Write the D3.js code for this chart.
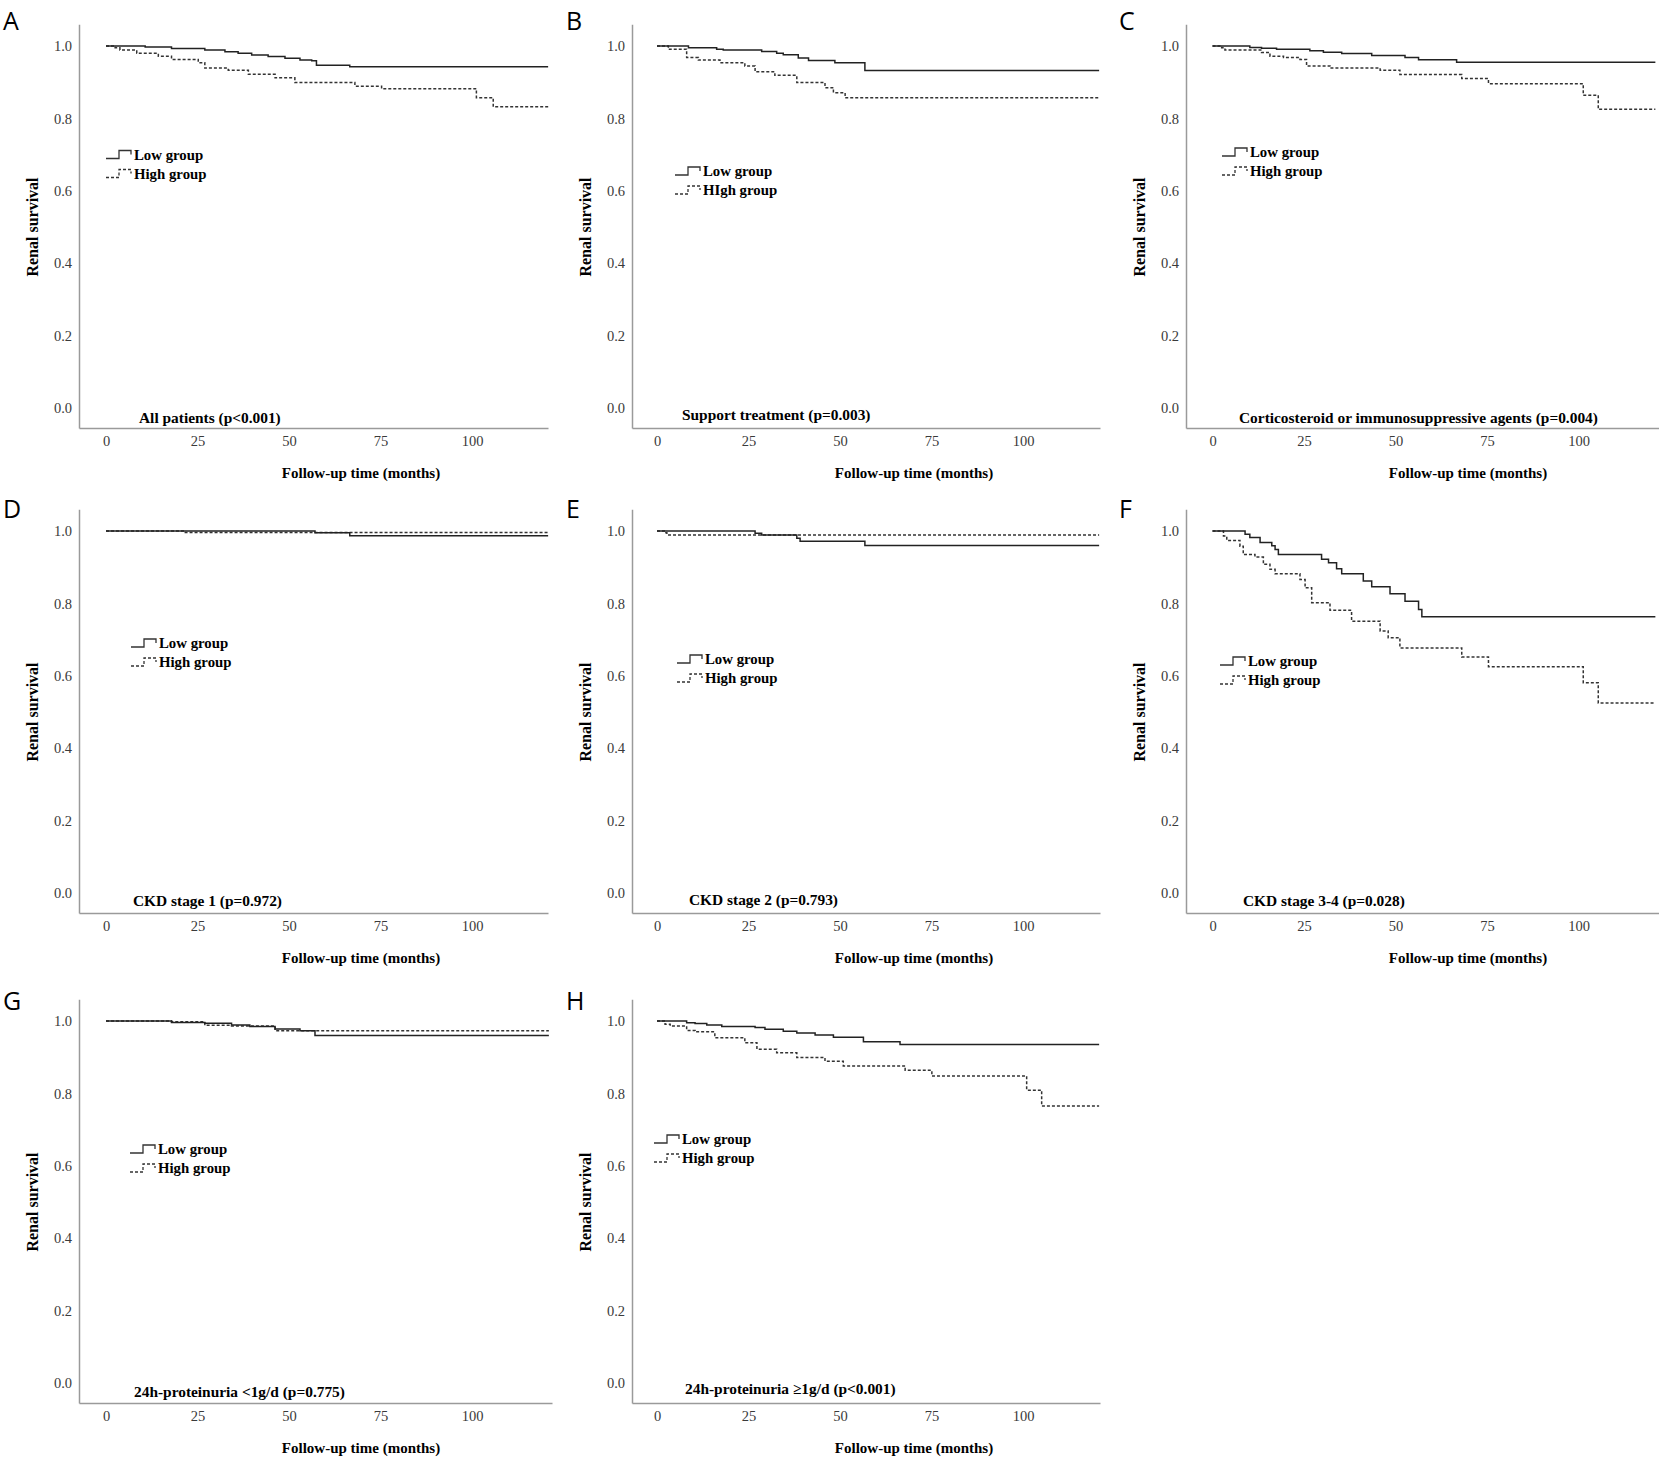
<!DOCTYPE html>
<html>
<head>
<meta charset="utf-8">
<script src="https://cdn.jsdelivr.net/npm/d3@7"></script>
<style>
  body { margin: 0; background: #fff; }
  svg { display: block; }
</style>
</head>
<body>
<div id="chart"></div>
<script>
// Kaplan-Meier curves: [time (months), survival after the step]
const lowA  = [[0,1],[10.7,0.997],[17.9,0.993],[27,0.989],[32.5,0.984],[36.1,0.980],[39.8,0.975],[44.3,0.971],[48.9,0.966],[53,0.961],[56.2,0.959],[57.5,0.947],[66.6,0.943],[120.8,0.943]];
const highA = [[0,1],[2.5,0.995],[3.8,0.989],[8.4,0.980],[14.3,0.972],[17.9,0.963],[25.2,0.954],[27,0.939],[33.4,0.933],[38.9,0.922],[46.2,0.912],[51.6,0.899],[68,0.889],[75.3,0.882],[101.2,0.857],[105.8,0.832],[121,0.832]];
const lowB  = [[0,1],[8.6,0.995],[16.3,0.991],[18.1,0.989],[28.6,0.985],[32.7,0.980],[34.5,0.976],[38.6,0.967],[41.4,0.960],[48.6,0.954],[56.8,0.932],[120.8,0.932]];
const highB = [[0,1],[3.1,0.991],[8.1,0.968],[11.3,0.961],[17.2,0.954],[24,0.945],[26.8,0.929],[32.2,0.919],[38.2,0.899],[45.9,0.885],[48.2,0.871],[51.4,0.857],[120.8,0.857]];
const lowC  = [[0,1],[10.2,0.996],[13.4,0.994],[17.5,0.991],[26.6,0.987],[30.3,0.983],[35.3,0.979],[43.5,0.974],[52.6,0.968],[56.3,0.962],[66.7,0.955],[121,0.955]];
const highC = [[0,1],[2.5,0.995],[3.4,0.989],[13.4,0.982],[15.7,0.972],[19.4,0.968],[23.9,0.963],[25.7,0.945],[32.1,0.939],[45.8,0.933],[51.2,0.921],[68.1,0.910],[75.4,0.896],[101.3,0.864],[105.4,0.825],[121,0.825]];
const lowD  = [[0,1],[57.1,0.995],[66.6,0.987],[120.8,0.987]];
const highD = [[0,1],[21.1,0.996],[120.8,0.996]];
const lowE  = [[0,1],[26.8,0.994],[28.6,0.989],[38.2,0.980],[39.1,0.972],[56.8,0.960],[120.8,0.960]];
const highE = [[0,1],[2.2,0.995],[2.7,0.989],[120.8,0.989]];
const lowF  = [[0,1],[8.9,0.991],[10.2,0.982],[13,0.968],[16.2,0.959],[17.1,0.949],[18,0.935],[29.8,0.922],[31.7,0.912],[33.9,0.896],[35.3,0.882],[41.2,0.862],[43.5,0.846],[48.5,0.827],[52.6,0.806],[56.3,0.783],[57.2,0.763],[121,0.763]];
const highF = [[0,1],[3,0.986],[3.9,0.974],[7.5,0.958],[8.4,0.935],[11.6,0.928],[13.9,0.908],[15.7,0.894],[17.1,0.882],[23.9,0.866],[25.3,0.843],[27.1,0.802],[32.1,0.781],[38,0.751],[45.8,0.724],[48,0.705],[51.2,0.677],[68.1,0.652],[75.4,0.625],[101.3,0.581],[105.4,0.525],[121,0.525]];
const lowG  = [[0,1],[17.9,0.996],[27,0.994],[34.3,0.989],[39.3,0.985],[46.2,0.978],[53,0.973],[57.1,0.960],[121,0.960]];
const highG = [[0,1],[17.9,0.998],[27,0.988],[34.3,0.986],[46.2,0.973],[121,0.973]];
const lowH  = [[0,1],[8.1,0.995],[10.4,0.993],[13.6,0.989],[17.7,0.985],[26.8,0.982],[29.5,0.977],[34.5,0.972],[38.2,0.967],[43.2,0.961],[48.2,0.955],[56.4,0.943],[66.4,0.935],[120.8,0.935]];
const highH = [[0,1],[2.2,0.991],[3.6,0.986],[8.1,0.974],[10.4,0.970],[15.8,0.954],[24,0.940],[27.3,0.922],[32.7,0.912],[38.2,0.899],[45.9,0.889],[50.9,0.876],[67.8,0.864],[75.1,0.848],[101,0.809],[105.1,0.765],[120.8,0.765]];

const panelLetters = ['A', 'B', 'C', 'D', 'E', 'F', 'G', 'H'];
const panelNotes = [
    'All patients (p<0.001)',
    'Support treatment (p=0.003)',
    'Corticosteroid or immunosuppressive agents (p=0.004)',
    'CKD stage 1 (p=0.972)',
    'CKD stage 2 (p=0.793)',
    'CKD stage 3-4 (p=0.028)',
    '24h-proteinuria <1g/d (p=0.775)',
    '24h-proteinuria \u22651g/d (p<0.001)'
];
const lowLabels = ['Low group', 'Low group', 'Low group', 'Low group', 'Low group', 'Low group', 'Low group', 'Low group'];
const highLabels = ['High group', 'HIgh group', 'High group', 'High group', 'High group', 'High group', 'High group', 'High group'];
const lowCurves = [lowA, lowB, lowC, lowD, lowE, lowF, lowG, lowH];
const highCurves = [highA, highB, highC, highD, highE, highF, highG, highH];
const xTicks = [0, 25, 50, 75, 100];
const yTicks = [0, 0.2, 0.4, 0.6, 0.8, 1.0];
const xTitle = 'Follow-up time (months)';
const yTitle = 'Renal survival';

// layout (pixels)
const W = 1659, H = 1457;
const colAxisX = [79, 632, 1186];
const colZero = [106, 657, 1212.5];
const colHundred = [472, 1023, 1578.5];
const colEnd = [548, 1100, 1659];
const rowOne = [46, 531, 1021];
const rowZero = [408, 893, 1383];
// legend and note offsets from (axis x, y of 1.0)
const legendOff = [[27,108.5],[43,125],[36,106],[52,112],[45,128],[34,130],[51,128],[22,118]];
const noteOff = [[60,372],[50,369],[53,372],[54,370],[57,369],[57,370],[55,371],[53,368]];

const serif = '"Liberation Serif", "Times New Roman", serif';
const axisGray = '#9a9a9a';

const svg = d3.select('#chart').append('svg')
    .attr('width', W)
    .attr('height', H);

const stepLine = (x, y) => d3.line()
    .x(d => x(d[0]))
    .y(d => y(d[1]))
    .curve(d3.curveStepAfter);

panelLetters.forEach((letter, i) => {
    const col = i % 3, row = Math.floor(i / 3);
    const ax = colAxisX[col];
    const endX = (i === 6) ? 552 : colEnd[col];

    const x0 = d3.scaleLinear().domain([0, 100]).range([colZero[col], colHundred[col]]);
    const x = d3.scaleLinear().domain([x0.invert(ax), x0.invert(endX)]).range([ax, endX]);
    const y0 = d3.scaleLinear().domain([0, 1]).range([rowZero[row], rowOne[row]]);
    const y = d3.scaleLinear().domain([-0.055, 1.06]).range([y0(-0.055), y0(1.06)]);

    const g = svg.append('g');

    // axes
    const xAxis = g.append('g')
        .attr('transform', `translate(0,${y(-0.055)})`)
        .call(d3.axisBottom(x).tickValues(xTicks).tickSize(0).tickPadding(8));
    const yAxis = g.append('g')
        .attr('transform', `translate(${ax},0)`)
        .call(d3.axisLeft(y).tickValues(yTicks).tickFormat(d3.format('.1f')).tickSize(0).tickPadding(7));
    [xAxis, yAxis].forEach(a => {
        a.select('.domain').attr('stroke', axisGray).attr('stroke-width', 1.5);
        a.selectAll('text')
            .style('font-family', serif)
            .style('font-size', '14.5px')
            .attr('fill', '#3a3a3a');
    });

    // titles
    g.append('text')
        .attr('x', ax + 282)
        .attr('y', y(-0.055) + 44.5)
        .attr('dy', '0.35em')
        .attr('text-anchor', 'middle')
        .style('font-family', serif)
        .style('font-size', '15px')
        .style('font-weight', 'bold')
        .text(xTitle);

    g.append('text')
        .attr('transform', `translate(${ax - 47},${y(0.5)}) rotate(-90)`)
        .attr('dy', '0.35em')
        .attr('text-anchor', 'middle')
        .style('font-family', serif)
        .style('font-size', '16px')
        .style('font-weight', 'bold')
        .text(yTitle);

    // curves
    const line = stepLine(x, y);
    g.append('path')
        .datum(highCurves[i])
        .attr('d', line)
        .attr('fill', 'none')
        .attr('stroke', '#333')
        .attr('stroke-width', 1.5)
        .attr('stroke-dasharray', '3,2');
    g.append('path')
        .datum(lowCurves[i])
        .attr('d', line)
        .attr('fill', 'none')
        .attr('stroke', '#222')
        .attr('stroke-width', 1.5);

    // legend
    const lx = ax + legendOff[i][0];
    const ly = rowOne[row] + legendOff[i][1];
    [[lowLabels[i], null], [highLabels[i], '3,2']].forEach(([label, dash], k) => {
        const yc = ly + k * 19;
        g.append('path')
            .attr('d', `M${lx},${yc + 4}H${lx + 13}V${yc - 4}H${lx + 25}V${yc}`)
            .attr('fill', 'none')
            .attr('stroke', '#333')
            .attr('stroke-width', 1.3)
            .attr('stroke-dasharray', dash);
        g.append('text')
            .attr('x', lx + 28)
            .attr('y', yc)
            .attr('dy', '0.35em')
            .style('font-family', serif)
            .style('font-size', '14.8px')
            .style('font-weight', 'bold')
            .text(label);
    });

    // note with p value
    g.append('text')
        .attr('x', ax + noteOff[i][0])
        .attr('y', rowOne[row] + noteOff[i][1])
        .attr('dy', '0.35em')
        .style('font-family', serif)
        .style('font-size', '15.4px')
        .style('font-weight', 'bold')
        .text(panelNotes[i]);

    // panel letter
    g.append('text')
        .attr('x', [3, 566, 1119][col])
        .attr('y', [30, 518, 1010][row])
        .style('font-family', '"Open Sans", "DejaVu Sans", sans-serif')
        .style('font-size', '25px')
        .text(letter);
});
</script>
</body>
</html>
